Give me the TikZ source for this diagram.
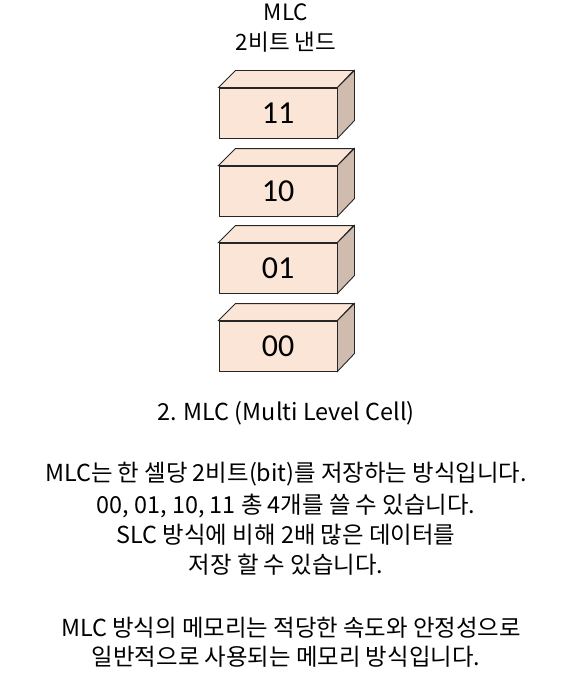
\documentclass[tikz,border=0pt]{standalone}
\usepackage{fontspec}
\setmainfont{Noto Sans CJK KR}
\newfontfamily\numfont{Carlito}
\definecolor{frontc}{HTML}{FBE5D6}
\definecolor{topc}{HTML}{FBE5D6}
\definecolor{sidec}{HTML}{CFBCAF}
\begin{document}
\begin{tikzpicture}[x=1pt,y=1pt,
  face/.style={draw=black!85, line width=0.9pt, line join=miter},
  frontbox/.style={face, fill=frontc, minimum width=118pt, minimum height=50pt, inner sep=0pt, font=\numfont\fontsize{32}{36}\selectfont},
  txt/.style={inner sep=0pt, font=\fontsize{23.4}{28}\selectfont},
  ttl/.style={inner sep=0pt, font=\fontsize{22.5}{26}\selectfont}]
\useasboundingbox (0,0) rectangle (564,-682);
\fill[white] (0,0) rectangle (564,-682);
\node[ttl] (t1) at (286,-12) {MLC};
\node[ttl] (t2) at (286,-42) {2비트 낸드};
\foreach \nm/\lab/\yy in {b11/11/113, b10/10/191, b01/01/268, b00/00/346}{
  \node[frontbox] (\nm) at (278,-\yy) {\lab};
  \filldraw[face, fill=topc] (\nm.north west) -- ++(17,17) -- ++(118,0) -- (\nm.north east) -- cycle;
  \filldraw[face, fill=sidec] (\nm.north east) -- ++(17,17) -- ++(0,-50) -- (\nm.south east) -- cycle;
}
\node[txt] (h) at (286,-413) {2. MLC (Multi Level Cell)};
\node[txt] (l1) at (286,-474) {MLC는 한 셀당 2비트(bit)를 저장하는 방식입니다.};
\node[txt] (l2) at (286,-506) {00, 01, 10, 11 총 4개를 쓸 수 있습니다.};
\node[txt] (l3) at (286,-535) {SLC 방식에 비해 2배 많은 데이터를};
\node[txt] (l4) at (286,-565) {저장 할 수 있습니다.};
\node[txt] (l5) at (291,-628) {MLC 방식의 메모리는 적당한 속도와 안정성으로};
\node[txt] (l6) at (286,-657) {일반적으로 사용되는 메모리 방식입니다.};
\end{tikzpicture}
\end{document}
